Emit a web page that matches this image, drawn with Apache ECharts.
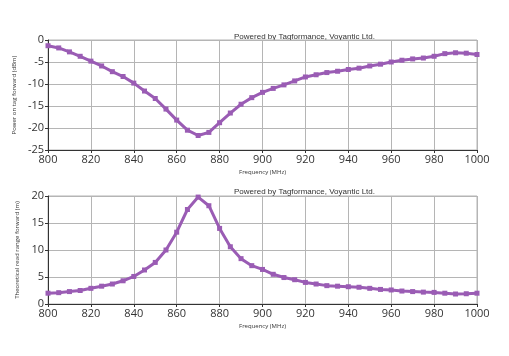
<!DOCTYPE html>
<html><head><meta charset="utf-8">
<script src="https://cdn.jsdelivr.net/npm/echarts@6/dist/echarts.min.js"></script>
<style>html,body{margin:0;padding:0;background:#fff}#c{width:509px;height:356px}</style>
</head><body><div id="c"></div>
<script>
const freq = [800,805,810,815,820,825,830,835,840,845,850,855,860,865,870,875,880,885,890,895,900,905,910,915,920,925,930,935,940,945,950,955,960,965,970,975,980,985,990,995,1000];
const powerDbm = [-1.3,-1.8,-2.7,-3.7,-4.8,-5.9,-7.2,-8.3,-9.8,-11.6,-13.3,-15.7,-18.2,-20.5,-21.7,-21.0,-18.8,-16.6,-14.6,-13.1,-11.9,-11.0,-10.2,-9.3,-8.4,-7.9,-7.4,-7.1,-6.7,-6.4,-5.9,-5.5,-5.0,-4.6,-4.3,-4.1,-3.7,-3.1,-2.9,-3.0,-3.3];
const rangeM = [2.0,2.1,2.3,2.5,2.9,3.3,3.7,4.3,5.1,6.3,7.7,10.0,13.3,17.5,19.8,18.2,14.0,10.6,8.4,7.1,6.4,5.5,4.9,4.5,4.0,3.7,3.4,3.3,3.2,3.1,2.9,2.7,2.6,2.4,2.3,2.2,2.15,2.0,1.85,1.9,2.0];
const xTitle = 'Frequency (MHz)';
const yTitles = ['Power on tag forward (dBm)', 'Theoretical read range forward (m)'];
const credit = 'Powered by Tagformance, Voyantic Ltd.';

const color = '#9a5cb4';
const font = 'Segoe UI, "Open Sans", "DejaVu Sans", sans-serif';
function xAxis(i){
  return {type:'value', gridIndex:i, min:800, max:1000, interval:20,
    axisLine:{show:true, onZero:false, lineStyle:{color:'#333', width:1}},
    axisTick:{show:true, length:3, lineStyle:{color:'#333'}},
    axisLabel:{color:'#333', fontSize:11, fontFamily:font, margin:4, formatter:(v)=>String(v)},
    splitLine:{show:true, lineStyle:{color:'#b5b5b5', width:1}},
    name:xTitle, nameLocation:'middle', nameGap:19, nameTextStyle:{fontSize:6, color:'#333', fontFamily:font}};
}
function yAxis(i, min, max){
  return {type:'value', gridIndex:i, min:min, max:max, interval:5,
    axisLine:{show:true, lineStyle:{color:'#333', width:1}},
    axisTick:{show:true, length:3, lineStyle:{color:'#333'}},
    axisLabel:{color:'#333', fontSize:11, fontFamily:font, margin:4, formatter:(v)=>String(v)},
    splitLine:{show:true, lineStyle:{color:'#b5b5b5', width:1}},
    name:yTitles[i], nameLocation:'middle', nameGap:26, nameRotate:90, nameTextStyle:{fontSize:6, color:'#333', fontFamily:font}};
}
function series(i, vals){
  return {type:'line', xAxisIndex:i, yAxisIndex:i, data:freq.map((f,k)=>[f, vals[k]]),
    symbol:'rect', symbolSize:5, showSymbol:true, animation:false,
    lineStyle:{color:color, width:3}, itemStyle:{color:color}};
}
const chart = echarts.init(document.getElementById('c'), null, {renderer:'canvas'});
chart.setOption({
  animation:false,
  backgroundColor:'#fff',
  grid:[
    {left:48, right:32, top:40, height:110, show:true, borderColor:'#b5b5b5', borderWidth:1},
    {left:48, right:32, top:196, height:108, show:true, borderColor:'#b5b5b5', borderWidth:1}
  ],
  graphic:[
    {type:'text', left:234, top:33, style:{text:credit, fontSize:8, fill:'#333', font:'8px '+font}},
    {type:'text', left:234, top:188, style:{text:credit, fontSize:8, fill:'#333', font:'8px '+font}}
  ],
  xAxis:[xAxis(0), xAxis(1)],
  yAxis:[yAxis(0,-25,0), yAxis(1,0,20)],
  series:[series(0, powerDbm), series(1, rangeM)]
});
</script></body></html>
